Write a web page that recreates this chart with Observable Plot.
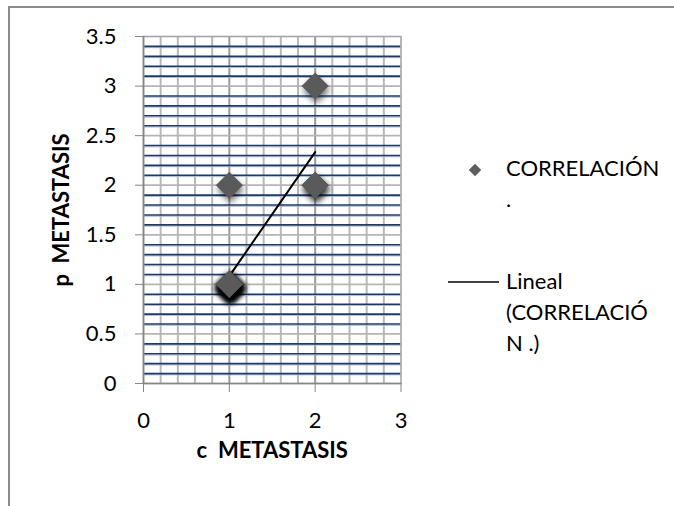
<!DOCTYPE html>
<html>
<head>
<meta charset="utf-8">
<script src="https://cdn.jsdelivr.net/npm/d3@7"></script>
<script src="https://cdn.jsdelivr.net/npm/@observablehq/plot@0.6"></script>
<style>
  html, body { margin: 0; padding: 0; background: #fff; overflow: hidden; }
  #wrap { position: relative; width: 674px; height: 506px; overflow: hidden; }
  #border { position: absolute; left: 8px; top: 6px; width: 700px; height: 540px;
            border-top: 2px solid #8c8c8c; border-left: 2px solid #8c8c8c; box-sizing: border-box; }
  #chart { position: absolute; left: 0; top: 0; }
  #chart svg text { white-space: pre; }
  .leg { position: absolute; font-family: Lato, sans-serif; font-size: 22px; line-height: 31px; color: #000; white-space: pre; }
</style>
</head>
<body>
<div id="wrap">
  <div id="border"></div>
  <div id="chart"></div>
</div>
<script>
// ---- data ----
const cMetastasis = [1,1,1,1,1,1,1,1,1,1,1,1,2,2,2];
const pMetastasis = [1,1,1,1,1,1,1,1,1,1,1,2,2,2,3];
const xTicks = [0, 1, 2, 3];
const xTickLabels = ["0", "1", "2", "3"];
const yTicks = [0, 0.5, 1, 1.5, 2, 2.5, 3, 3.5];
const yTickLabels = ["0", "0.5", "1", "1.5", "2", "2.5", "3", "3.5"];
const xTitle = "c  METASTASIS";
const yTitle = "p  METASTASIS";
const seriesName = ["CORRELACIÓN", "."];
const trendName = ["Lineal", "(CORRELACIÓ", "N .)"];

// ---- table ----
const points = cMetastasis.map((c, i) => ({c, p: pMetastasis[i]}));
const xMinor = d3.range(1, 15).map(i => +(i * 0.2).toFixed(1)).filter(v => !Number.isInteger(v));
const yMajorGrid = yTicks.filter(v => v > 0 && v < 3.5);
const yMinor = d3.range(1, 35).filter(i => i % 5 !== 0).map(i => i / 10);

const chart = Plot.plot({
  width: 674,
  height: 506,
  marginLeft: 143,
  marginRight: 273.5,
  marginTop: 36,
  marginBottom: 123,
  style: {fontFamily: "Lato, sans-serif", fontSize: "22px", background: "transparent", color: "black"},
  x: {domain: [0, 3]},
  y: {domain: [0, 3.5]},
  marks: [
    Plot.ruleX(xMinor, {stroke: "#b8b8b8", strokeWidth: 2}),
    Plot.ruleX([1, 2], {stroke: "#9a9a9a", strokeWidth: 2}),
    Plot.ruleY(yMajorGrid, {stroke: "#b5b5b5", strokeWidth: 1.8}),
    Plot.ruleY(yMinor, {stroke: "#a9bcdb", strokeWidth: 1, dy: 1.3}),
    Plot.ruleY(yMinor, {stroke: "#1f3a64", strokeWidth: 1.6}),
    Plot.frame({stroke: "#a6a6a6", strokeWidth: 1.6}),
    Plot.ruleX([0], {stroke: "#868686", strokeWidth: 1.6}),
    Plot.ruleY([0], {stroke: "#868686", strokeWidth: 1.6}),
    Plot.axisY({ticks: yTicks, tickSize: 8, tickPadding: 19, stroke: "#868686", fill: "black",
                tickFormat: d => yTickLabels[yTicks.indexOf(d)], label: null, fontSize: 22}),
    Plot.axisX({ticks: xTicks, tickSize: 9, tickPadding: 20, stroke: "#868686", fill: "black",
                tickFormat: d => xTickLabels[xTicks.indexOf(d)], label: null, fontSize: 22}),
    Plot.axisY({ticks: [], tickSize: 0, label: yTitle, labelAnchor: "center", labelOffset: 90,
                labelArrow: "none", fontWeight: "bold", fill: "black", fontSize: 22}),
    Plot.axisX({ticks: [], tickSize: 0, label: xTitle, labelAnchor: "center", labelOffset: 74,
                labelArrow: "none", fontWeight: "bold", fill: "black", fontSize: 22}),
    Plot.linearRegressionY(points, {x: "c", y: "p", stroke: "black", strokeWidth: 2, ci: 0}),
    Plot.dot(points, {x: "c", y: "p", symbol: "diamond2", r: 12.2, fill: "#5a5a5a", stroke: "none"})
  ]
});

d3.select(chart).selectAll('g[aria-label="dot"] path')
  .style("filter", "drop-shadow(1px 4px 3px rgba(0,0,0,0.55))");

document.getElementById("chart").appendChild(chart);

// ---- legend ----
const wrap = document.getElementById("wrap");
const legSvg = d3.select(wrap).append("svg")
  .attr("width", 674).attr("height", 506)
  .style("position", "absolute").style("left", 0).style("top", 0);
legSvg.append("path")
  .attr("d", d3.symbol(d3.symbolDiamond2, 100)())
  .attr("transform", "translate(475,170)")
  .attr("fill", "#5e5e5e");
legSvg.append("line")
  .attr("x1", 448).attr("x2", 499).attr("y1", 282).attr("y2", 282)
  .attr("stroke", "black").attr("stroke-width", 1.5);

const l1 = document.createElement("div");
l1.className = "leg"; l1.style.left = "506px"; l1.style.top = "152px";
l1.textContent = seriesName.join("\n");
wrap.appendChild(l1);
const l2 = document.createElement("div");
l2.className = "leg"; l2.style.left = "506px"; l2.style.top = "265px";
l2.textContent = trendName.join("\n");
wrap.appendChild(l2);
</script>
</body>
</html>
